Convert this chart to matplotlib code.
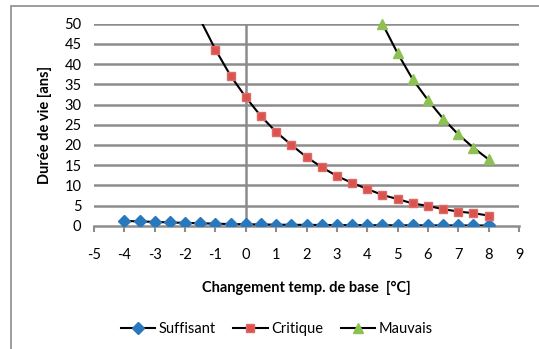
import numpy as np
import matplotlib
matplotlib.use("Agg")
import matplotlib.pyplot as plt
from matplotlib.patches import Rectangle

plt.rcParams['font.family'] = ['Lato', 'DejaVu Sans']

# data
x_suff = np.arange(-4, 8.01, 0.5)
y_suff = [1.2, 1.05, 0.95, 0.8, 0.7, 0.6, 0.5, 0.4, 0.35, 0.3, 0.25, 0.22, 0.2,
          0.18, 0.16, 0.14, 0.12, 0.11, 0.1, 0.09, 0.08, 0.07, 0.06, 0.06, 0.05]

x_crit = np.arange(-1.5, 8.01, 0.5)
y_crit = [51.0, 43.6, 37.1, 31.8, 27.1, 23.2, 20.0, 17.0, 14.5, 12.3, 10.6, 9.1,
          7.6, 6.6, 5.5, 4.9, 4.1, 3.5, 3.1, 2.5]

x_mauv = np.arange(4.5, 8.01, 0.5)
y_mauv = [50.0, 42.7, 36.2, 31.1, 26.5, 22.6, 19.3, 16.4]

xticks = list(range(-5, 10))
yticks = list(range(0, 51, 5))

grid_col = "#8c8c8c"
fs = 10.5

fig = plt.figure(figsize=(5.39, 3.49), dpi=100)
fig.patches.append(Rectangle((11 / 539, -0.1), 1.2, 1 - 6 / 349 + 0.1,
                             transform=fig.transFigure, fill=False,
                             edgecolor="#8c8c8c", linewidth=1.2))
ax = fig.add_axes([94 / 539, 1 - 225.7 / 349, 425 / 539, 202 / 349])

for y in yticks[1:]:
    ax.axhline(y, color=grid_col, linewidth=1.8, zorder=1)
ax.axvline(0, color=grid_col, linewidth=1.8, zorder=1)

ax.plot(x_suff, y_suff, color="black", linewidth=1.5, marker="D", markersize=6,
        markerfacecolor="#2878BD", markeredgecolor="#2878BD", label="Suffisant", zorder=3)
# first point lies above the axis: draw line to it, but no marker
ax.plot(x_crit, y_crit, color="black", linewidth=1.5, marker="s", markersize=6.3,
        markevery=list(range(1, len(x_crit))),
        markerfacecolor="#D9534F", markeredgecolor="#E06A66", label="Critique", zorder=3)
ax.plot(x_mauv, y_mauv, color="black", linewidth=1.5, marker="^", markersize=7.5,
        markerfacecolor="#8DC153", markeredgecolor="#8DC153", label="Mauvais", zorder=3,
        clip_on=False)

ax.set_xlim(-5, 9)
ax.set_ylim(0, 50)
ax.set_xticks(xticks)
ax.set_yticks(yticks)
ax.set_xticklabels([str(v) for v in xticks])
ax.set_yticklabels([str(v) for v in yticks])

for s in ["top", "right", "left"]:
    ax.spines[s].set_visible(False)
ax.spines["bottom"].set_color(grid_col)
ax.spines["bottom"].set_linewidth(1.8)
ax.tick_params(axis="x", direction="out", length=4, width=1.5, color=grid_col,
               labelsize=fs, pad=12)
ax.tick_params(axis="y", length=0, labelsize=fs, pad=9)

ax.set_xlabel("Changement temp. de base  [°C]", fontsize=fs, fontweight="bold", labelpad=14)
ax.set_ylabel("Durée de vie [ans]", fontsize=fs, fontweight="bold", labelpad=9)

ax.legend(loc="center", bbox_to_anchor=(0.43, -0.51), ncol=3, frameon=False,
          fontsize=fs, handlelength=2.35, handletextpad=0.25, columnspacing=1.2)

fig.savefig("out.png", dpi=100)
